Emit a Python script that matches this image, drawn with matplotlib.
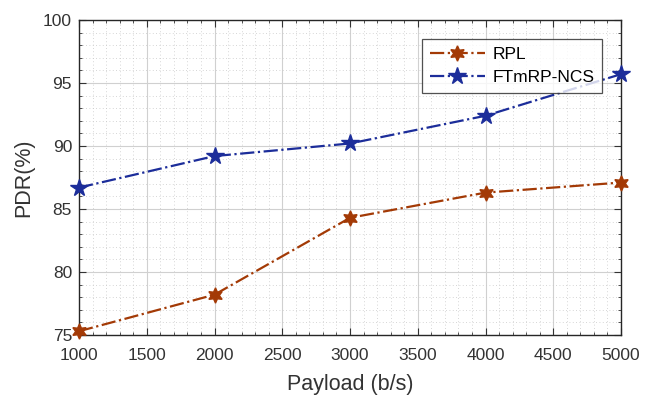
import matplotlib
matplotlib.use("Agg")
import matplotlib.pyplot as plt
from matplotlib.ticker import MultipleLocator

plt.rcParams['font.family'] = ['Liberation Sans', 'DejaVu Sans']

payload = [1000, 2000, 3000, 4000, 5000]
pdr_rpl = [75.3, 78.2, 84.3, 86.3, 87.1]
pdr_ftmrp = [86.7, 89.2, 90.2, 92.4, 95.7]

x_ticks = [1000, 1500, 2000, 2500, 3000, 3500, 4000, 4500, 5000]
y_ticks = [75, 80, 85, 90, 95, 100]

fig = plt.figure(figsize=(6.51, 3.97), dpi=100)
ax = fig.add_axes([79 / 651, 1 - 335 / 397, (621 - 79) / 651, (335 - 20) / 397])

ax.plot(payload, pdr_rpl, linestyle='-.', color='#a33a06', linewidth=1.6,
        marker=(6, 1, 0), markersize=11, markerfacecolor='#a33a06',
        markeredgecolor='#a33a06', label='RPL', zorder=3, clip_on=False)
ax.plot(payload, pdr_ftmrp, linestyle='-.', color='#1c2d9a', linewidth=1.6,
        marker='*', markersize=13, markerfacecolor='#1c2d9a',
        markeredgecolor='#1c2d9a', label='FTmRP-NCS', zorder=3, clip_on=False)

ax.set_xlim(1000, 5000)
ax.set_ylim(75, 100)
ax.set_xticks(x_ticks)
ax.set_yticks(y_ticks)
ax.xaxis.set_minor_locator(MultipleLocator(100))
ax.yaxis.set_minor_locator(MultipleLocator(1))

ax.grid(which='major', color='#d0d0d0', linewidth=0.8, linestyle='-')
ax.grid(which='minor', color='#c8c8c8', linewidth=0.6, linestyle=(0, (1, 3)))
ax.set_axisbelow(True)

ax.tick_params(which='both', direction='in', top=True, right=True,
               labelsize=12.5, colors='#333333')
ax.tick_params(axis='x', which='major', pad=9)
ax.tick_params(axis='y', which='major', pad=5)
ax.tick_params(which='major', length=5)
ax.tick_params(which='minor', length=2.5)
for s in ax.spines.values():
    s.set_color('#262626')
    s.set_linewidth(1.0)

ax.set_xlabel('Payload (b/s)', fontsize=15.5, color='#333333', labelpad=8)
ax.set_ylabel('PDR(%)', fontsize=15.5, color='#333333', labelpad=6)

leg = ax.legend(loc='upper right', bbox_to_anchor=(0.965, 0.94), fontsize=12.5,
                frameon=True, fancybox=False, edgecolor='#262626',
                handlelength=3.2, handletextpad=0.4, borderpad=0.45,
                labelspacing=0.45, borderaxespad=0)
leg.get_frame().set_linewidth(0.9)

fig.savefig('out.png', dpi=100)
